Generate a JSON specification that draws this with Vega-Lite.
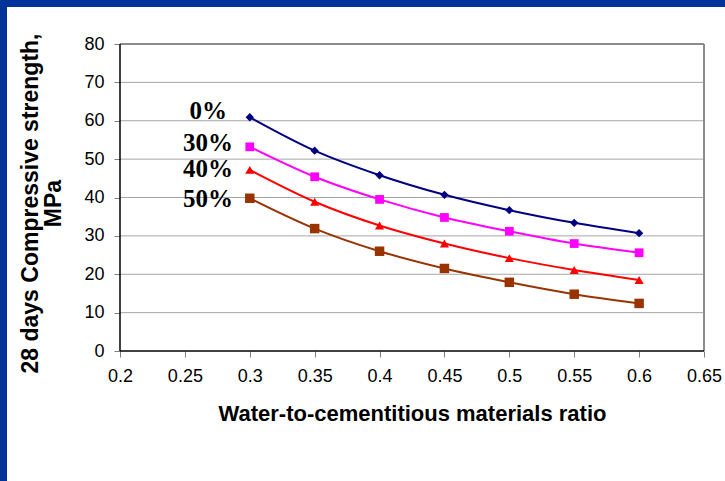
{
  "$schema": "https://vega.github.io/schema/vega-lite/v6.json",
  "width": 718,
  "height": 474,
  "autosize": {"type": "none"},
  "padding": {"left": 7, "top": 7, "right": 0, "bottom": 0},
  "background": "#003399",
  "config": {
    "view": {"fill": "white", "stroke": null},
    "font": "Liberation Sans"
  },
  "datasets": {
    "series": [
      {"mix": "0%", "wcm": 0.3, "strength": 60.9},
      {"mix": "0%", "wcm": 0.35, "strength": 52.2},
      {"mix": "0%", "wcm": 0.4, "strength": 45.8},
      {"mix": "0%", "wcm": 0.45, "strength": 40.7},
      {"mix": "0%", "wcm": 0.5, "strength": 36.7},
      {"mix": "0%", "wcm": 0.55, "strength": 33.4},
      {"mix": "0%", "wcm": 0.6, "strength": 30.7},
      {"mix": "30%", "wcm": 0.3, "strength": 53.2},
      {"mix": "30%", "wcm": 0.35, "strength": 45.4},
      {"mix": "30%", "wcm": 0.4, "strength": 39.5},
      {"mix": "30%", "wcm": 0.45, "strength": 34.8},
      {"mix": "30%", "wcm": 0.5, "strength": 31.2},
      {"mix": "30%", "wcm": 0.55, "strength": 28.0},
      {"mix": "30%", "wcm": 0.6, "strength": 25.6},
      {"mix": "40%", "wcm": 0.3, "strength": 47.2},
      {"mix": "40%", "wcm": 0.35, "strength": 38.9},
      {"mix": "40%", "wcm": 0.4, "strength": 32.7},
      {"mix": "40%", "wcm": 0.45, "strength": 28.0},
      {"mix": "40%", "wcm": 0.5, "strength": 24.2},
      {"mix": "40%", "wcm": 0.55, "strength": 21.1},
      {"mix": "40%", "wcm": 0.6, "strength": 18.5},
      {"mix": "50%", "wcm": 0.3, "strength": 39.8},
      {"mix": "50%", "wcm": 0.35, "strength": 31.9},
      {"mix": "50%", "wcm": 0.4, "strength": 26.0},
      {"mix": "50%", "wcm": 0.45, "strength": 21.5},
      {"mix": "50%", "wcm": 0.5, "strength": 17.9},
      {"mix": "50%", "wcm": 0.55, "strength": 14.8},
      {"mix": "50%", "wcm": 0.6, "strength": 12.4}
    ],
    "labels": [
      {"mix": "0%", "lx": 0.2824, "ly": 62.5},
      {"mix": "30%", "lx": 0.2871, "ly": 54.1},
      {"mix": "40%", "lx": 0.2871, "ly": 47.5},
      {"mix": "50%", "lx": 0.2871, "ly": 39.5}
    ],
    "grid": [
      {"g": 10}, {"g": 20}, {"g": 30}, {"g": 40}, {"g": 50}, {"g": 60}, {"g": 70}
    ]
  },
  "layer": [
    {
      "data": {"name": "grid"},
      "mark": {"type": "rule", "color": "#a6a6a6", "strokeWidth": 1},
      "encoding": {
        "y": {
          "field": "g", "type": "quantitative",
          "scale": {"domain": [-33.876, 89.642], "nice": false, "zero": false},
          "axis": {
            "values": [0, 10, 20, 30, 40, 50, 60, 70, 80],
            "offset": -113,
            "domain": false,
            "grid": false,
            "tickSize": 6,
            "tickColor": "#808080",
            "labelFontSize": 18,
            "labelColor": "black",
            "labelPadding": 10,
            "labelOverlap": false,
            "labelFlush": false,
            "title": ["28 days Compressive strength,", "MPa"],
            "titleFontSize": 23,
            "titleFontWeight": "bold",
            "titleColor": "black",
            "titleAngle": 270,
            "titleBaseline": "alphabetic",
            "titleAlign": "center",
            "titleX": -83,
            "titleY": 196,
            "titleLineHeight": 23
          }
        },
        "x": {
          "datum": 0.2, "type": "quantitative",
          "scale": {"domain": [0.11293, 0.66618], "nice": false, "zero": false},
          "axis": {
            "values": [0.2, 0.25, 0.3, 0.35, 0.4, 0.45, 0.5, 0.55, 0.6, 0.65],
            "format": ".2~f",
            "offset": -130,
            "domain": false,
            "grid": false,
            "tickSize": 6,
            "tickColor": "#808080",
            "labelFontSize": 18,
            "labelColor": "black",
            "labelPadding": 10,
            "labelFlush": false,
            "labelOverlap": false,
            "title": "Water-to-cementitious materials ratio",
            "titleFontSize": 22,
            "titleFontWeight": "bold",
            "titleColor": "black",
            "titleX": 405,
            "titleY": 69,
            "titleBaseline": "alphabetic",
            "titleAlign": "center"
          }
        },
        "x2": {"datum": 0.65}
      }
    },
    {
      "data": {"values": [{}]},
      "mark": {"type": "rule", "color": "#8c8c8c", "strokeWidth": 2},
      "encoding": {
        "y": {"datum": 80, "type": "quantitative"},
        "x": {"datum": 0.2, "type": "quantitative"},
        "x2": {"datum": 0.65}
      }
    },
    {
      "data": {"values": [{}]},
      "mark": {"type": "rule", "color": "#8c8c8c", "strokeWidth": 2},
      "encoding": {
        "x": {"datum": 0.65, "type": "quantitative"},
        "y": {"datum": 0, "type": "quantitative"},
        "y2": {"datum": 80}
      }
    },
    {
      "data": {"values": [{}]},
      "mark": {"type": "rule", "color": "black", "strokeWidth": 1.5},
      "encoding": {
        "x": {"datum": 0.2, "type": "quantitative"},
        "y": {"datum": 0, "type": "quantitative"},
        "y2": {"datum": 80}
      }
    },
    {
      "data": {"values": [{}]},
      "mark": {"type": "rule", "color": "black", "strokeWidth": 1.5},
      "encoding": {
        "y": {"datum": 0, "type": "quantitative"},
        "x": {"datum": 0.2, "type": "quantitative"},
        "x2": {"datum": 0.65}
      }
    },
    {
      "data": {"name": "series"},
      "mark": {"type": "line", "interpolate": "monotone", "strokeWidth": 2},
      "encoding": {
        "x": {"field": "wcm", "type": "quantitative"},
        "y": {"field": "strength", "type": "quantitative"},
        "color": {
          "field": "mix", "type": "nominal",
          "scale": {"domain": ["0%", "30%", "40%", "50%"], "range": ["#000080", "#ff00ff", "#ff0000", "#993300"]},
          "legend": null
        },
        "detail": {"field": "mix"}
      }
    },
    {
      "data": {"name": "series"},
      "mark": {"type": "point", "filled": true, "opacity": 1},
      "encoding": {
        "x": {"field": "wcm", "type": "quantitative"},
        "y": {"field": "strength", "type": "quantitative"},
        "color": {"field": "mix", "type": "nominal", "legend": null},
        "shape": {
          "field": "mix", "type": "nominal",
          "scale": {"domain": ["0%", "30%", "40%", "50%"], "range": ["diamond", "square", "triangle-up", "square"]},
          "legend": null
        },
        "size": {
          "field": "mix", "type": "nominal",
          "scale": {"domain": ["0%", "30%", "40%", "50%"], "range": [70, 90, 85, 90]},
          "legend": null
        }
      }
    },
    {
      "data": {"name": "labels"},
      "mark": {"type": "text", "align": "right", "baseline": "middle", "font": "Liberation Serif", "fontWeight": "bold", "fontSize": 25, "color": "black"},
      "encoding": {
        "x": {"field": "lx", "type": "quantitative"},
        "y": {"field": "ly", "type": "quantitative"},
        "text": {"field": "mix"}
      }
    }
  ]
}
